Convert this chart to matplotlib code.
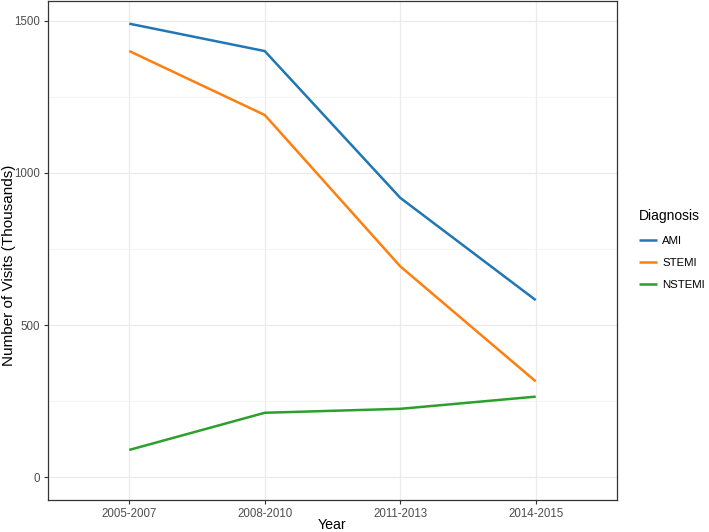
import numpy as np
import matplotlib.pyplot as plt

plt.rcParams["font.family"] = ["Liberation Sans", "DejaVu Sans"]

years = ["2005-2007", "2008-2010", "2011-2013", "2014-2015"]
ami = [1490, 1400, 918, 582]
stemi = [1400, 1190, 693, 315]
nstemi = [90, 212, 225, 265]

series = [("AMI", ami, "#1f77b4"), ("STEMI", stemi, "#ff7f0e"), ("NSTEMI", nstemi, "#2ca02c")]

W, H = 709, 532
fig = plt.figure(figsize=(W / 100, H / 100), dpi=100)
ax = fig.add_axes([48 / W, 32 / H, 569 / W, 499 / H])

x = np.arange(len(years))
for name, vals, col in series:
    ax.plot(x, vals, color=col, lw=1.8, label=name, solid_capstyle="butt")

ax.set_xlim(-0.6, len(years) - 1 + 0.6)
ax.set_ylim(-74.5, 1564.5)
ax.set_xticks(x)
ax.set_xticklabels(years)
ax.set_yticks([0, 500, 1000, 1500])
ax.set_yticks([250, 750, 1250], minor=True)

ax.grid(True, which="major", color="#ebebeb", lw=0.9)
ax.grid(True, which="minor", axis="y", color="#f2f2f2", lw=0.6)
ax.set_axisbelow(True)
ax.tick_params(which="major", length=3.2, width=0.8, color="#333333",
               labelsize=8.3, labelcolor="#4d4d4d", pad=2.5)
ax.tick_params(which="minor", length=0)
for s in ax.spines.values():
    s.set_color("#333333")
    s.set_linewidth(0.9)

ax.set_xlabel("Year", fontsize=10.2)
ax.xaxis.set_label_coords(0.5, -18 / 499)
ax.set_ylabel("Number of Visits (Thousands)", fontsize=11)
ax.yaxis.set_label_coords(-32 / 569, 0.47)

leg = fig.legend(title="Diagnosis", loc="upper left",
                 bbox_to_anchor=(639 / W, 1 - 209 / H),
                 frameon=False, fontsize=8.2, title_fontsize=10,
                 borderpad=0, borderaxespad=0,
                 handlelength=1.6, handletextpad=0.45, labelspacing=1.05)
leg._legend_box.align = "left"
leg._legend_box.sep = 9.5

fig.savefig("out.png", dpi=100)
